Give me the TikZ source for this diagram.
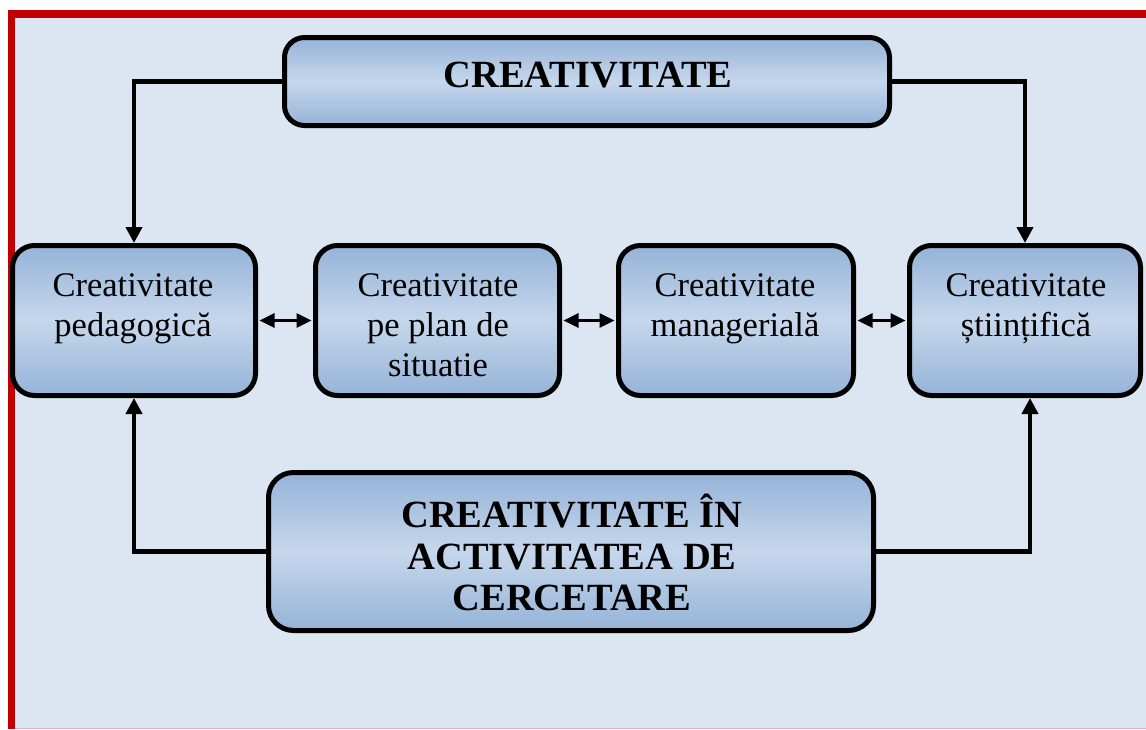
\documentclass[tikz,border=0pt]{standalone}
\usepackage{fontspec}
\setmainfont{Liberation Serif}
\usetikzlibrary{arrows.meta}

\definecolor{frame}{HTML}{C00000}
\definecolor{paper}{HTML}{DCE6F2}
\definecolor{edgepink}{HTML}{E4B4BE}
\definecolor{boxdark}{HTML}{95B3D7}
\definecolor{boxlight}{HTML}{C6D7EC}

\tikzset{
  card/.style={draw=black, line width=5pt, rounded corners=22pt,
    top color=boxdark, bottom color=boxdark, middle color=boxlight,
    inner sep=0pt},
  plain/.style={inner sep=0pt, align=center, font=\fontsize{34.5}{40}\selectfont},
  heavy/.style={inner sep=0pt, align=center, font=\fontsize{38.5}{41.5}\selectfont\bfseries},
  flow/.style={line width=4.5pt, -{Triangle[length=16pt,width=16pt]}},
  link/.style={line width=3pt,
    {Triangle[length=15pt,width=14pt]}-{Triangle[length=15pt,width=14pt]},
    shorten <=1.5pt, shorten >=1.5pt}
}

\begin{document}
\begin{tikzpicture}[x=1pt,y=-1pt]
  % page, red frame and pale background
  \fill[white] (0,0) rectangle (1146,729);
  \useasboundingbox (0,0) rectangle (1146,729);
  \fill[frame] (8,10) rectangle (1146,729);
  \fill[paper] (15,18) rectangle (1146,728);
  \fill[edgepink] (15,728) rectangle (1146,729);

  % boxes
  \node[card, rounded corners=20pt, minimum width=605pt, minimum height=88pt] (top) at (587,81.5) {};
  \node[card, minimum width=243pt, minimum height=150pt] (ped) at (134,320.5) {};
  \node[card, minimum width=244pt, minimum height=150pt] (sit) at (437.5,320.5) {};
  \node[card, minimum width=235pt, minimum height=150pt] (man) at (736,320.5) {};
  \node[card, minimum width=231pt, minimum height=150pt] (sti) at (1025,320.5) {};
  \node[card, rounded corners=25pt, minimum width=605pt, minimum height=158pt] (bot) at (571,551.5) {};

  % box texts
  \node[heavy, anchor=north] (topT) at (588,62) {CREATIVITATE};
  \node[plain, anchor=north] (pedT) at (133,273) {Creativitate\\pedagogică};
  \node[plain, anchor=north] (sitT) at (438,273) {Creativitate\\pe plan de\\situatie};
  \node[plain, anchor=north] (manT) at (735,273) {Creativitate\\managerială};
  \node[plain, anchor=north] (stiT) at (1026,273) {Creativitate\\științifică};
  \node[heavy, anchor=north] (botT) at (572,494) {CREATIVITATE ÎN\\ACTIVITATEA DE\\CERCETARE};

  % connectors
  \draw[flow] (top.west) -| (ped.north);
  \draw[flow] (top.east) -| (sti.north);
  \draw[flow] (bot.west) -| (ped.south);
  \draw[flow] (bot.east) -| ([xshift=5pt]sti.south);
  \draw[link] (ped.east) -- (sit.west);
  \draw[link] (sit.east) -- (man.west);
  \draw[link] (man.east) -- (sti.west);
\end{tikzpicture}
\end{document}
